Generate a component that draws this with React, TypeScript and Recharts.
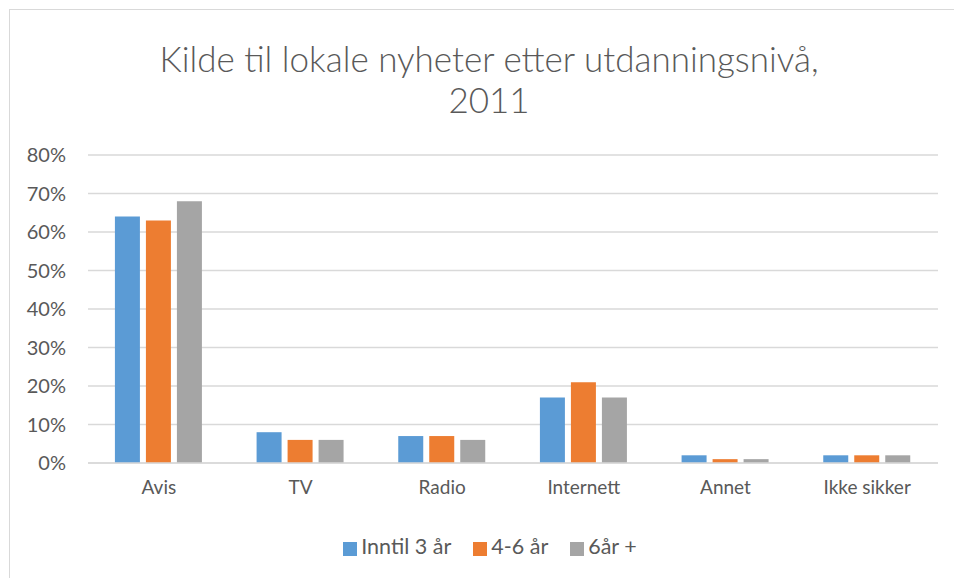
import React from 'react';
import { BarChart, Bar, XAxis, YAxis, CartesianGrid, Legend } from 'recharts';

const categories = ['Avis', 'TV', 'Radio', 'Internett', 'Annet', 'Ikke sikker'];
const inntil3 = [0.64, 0.08, 0.07, 0.17, 0.02, 0.02];
const fire6 = [0.63, 0.06, 0.07, 0.21, 0.01, 0.02];
const seksPluss = [0.68, 0.06, 0.06, 0.17, 0.01, 0.02];
const yTicks = [0, 0.1, 0.2, 0.3, 0.4, 0.5, 0.6, 0.7, 0.8];

const data = categories.map((name, i) => ({
    name,
    a: inntil3[i],
    b: fire6[i],
    c: seksPluss[i],
}));

const FONT = 'Lato, "Open Sans", sans-serif';
const TEXT = '#595959';
const GRID = '#d9d9d9';

export default function App() {
    return (
        <div style={{ position: 'absolute', left: 0, top: 0, width: 954, height: 578, background: '#fff', overflow: 'hidden', fontFamily: FONT }}>
            <div style={{ position: 'absolute', left: 9, top: 9, width: 980, height: 600, border: `1.5px solid ${GRID}` }} />
            <div style={{ position: 'absolute', left: 0, top: 38, width: 978, textAlign: 'center', color: TEXT, fontSize: 35, fontWeight: 300, lineHeight: '41px' }}>
                Kilde til lokale nyheter etter utdanningsnivå,<br />2011
            </div>
            <div style={{ position: 'absolute', left: 0, top: 0 }}>
                <BarChart
                    width={954}
                    height={578}
                    data={data}
                    margin={{ top: 155, right: 16, left: 8, bottom: 20 }}
                    barCategoryGap="19%"
                    barGap={6}
                >
                    <CartesianGrid vertical={false} stroke={GRID} strokeWidth={1.5} />
                    <XAxis
                        dataKey="name"
                        tickLine={false}
                        axisLine={{ stroke: GRID, strokeWidth: 1.5 }}
                        tick={{ fill: TEXT, fontSize: 19, fontFamily: FONT }}
                        tickMargin={12}
                        height={50}
                    />
                    <YAxis
                        width={80}
                        domain={[0, 0.8]}
                        ticks={yTicks}
                        tickFormatter={(v: number) => `${Math.round(v * 100)}%`}
                        tickLine={false}
                        axisLine={false}
                        tick={{ fill: TEXT, fontSize: 20, fontFamily: FONT }}
                        tickMargin={16}
                    />
                    <Legend
                        verticalAlign="bottom"
                        iconType="square"
                        iconSize={14}
                        height={45}
                        itemSorter="dataKey"
                        wrapperStyle={{ fontSize: 21.5, fontFamily: FONT, top: 533, left: 36 }}
                        formatter={(value: string) => <span style={{ color: TEXT, marginRight: 12 }}>{value}</span>}
                    />
                    <Bar dataKey="a" name="Inntil 3 år" fill="#5b9bd5" isAnimationActive={false} />
                    <Bar dataKey="b" name="4-6 år" fill="#ed7d31" isAnimationActive={false} />
                    <Bar dataKey="c" name="6år +" fill="#a5a5a5" isAnimationActive={false} />
                </BarChart>
            </div>
        </div>
    );
}
